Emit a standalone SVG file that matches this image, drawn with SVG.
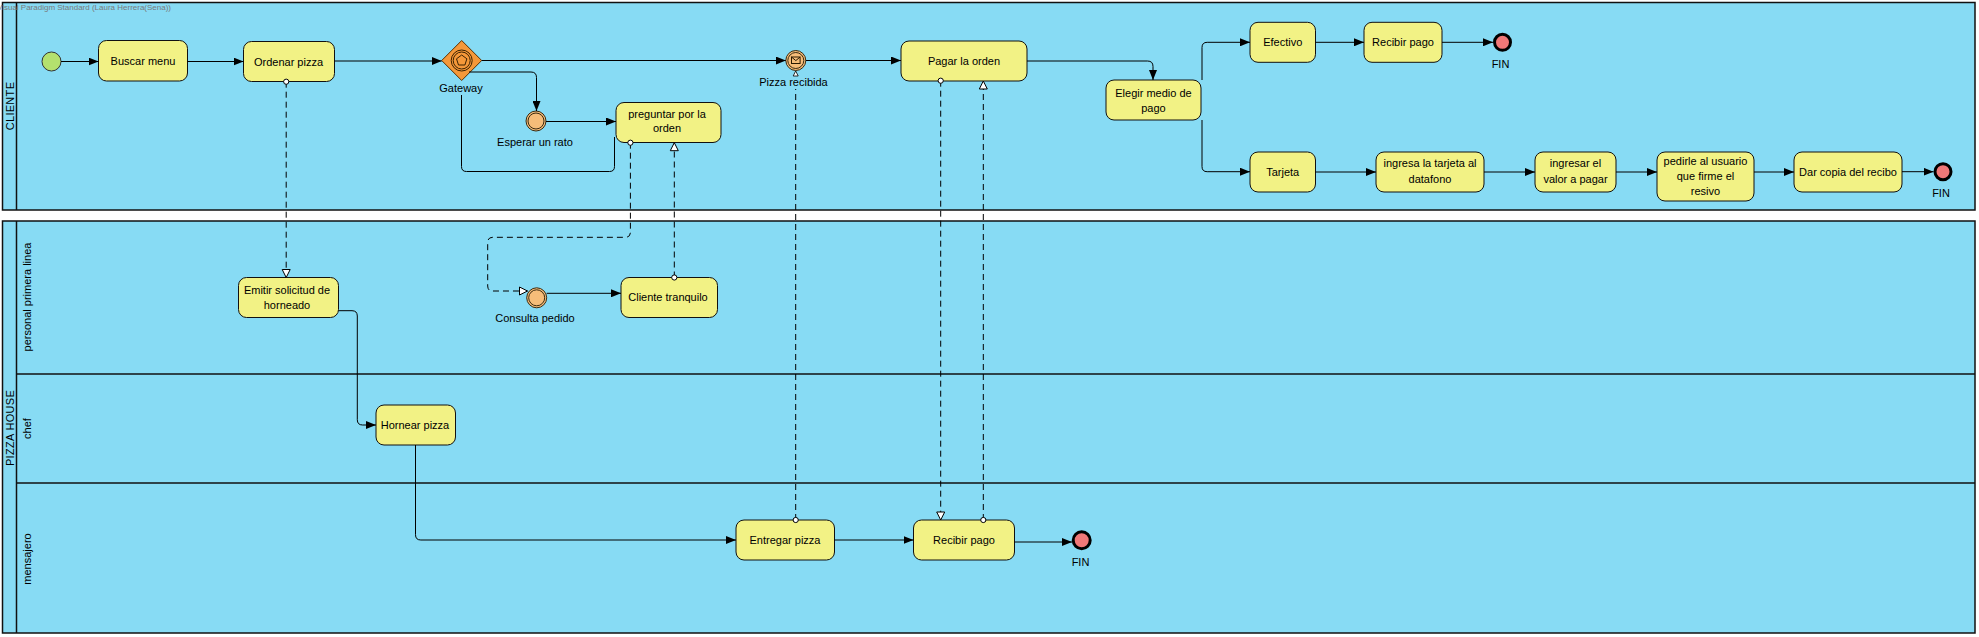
<svg xmlns="http://www.w3.org/2000/svg" width="1979" height="637" viewBox="0 0 1979 637">
<style>
.pool{fill:#87dbf4;stroke:#111;stroke-width:1.5}
.sep{stroke:#111;stroke-width:1.5;fill:none}
.task{fill:#f2f285;stroke:#111;stroke-width:1}
.t{font-family:"Liberation Sans",Arial,sans-serif;font-size:11px;fill:#000;text-anchor:middle}
.seq{fill:none;stroke:#000;stroke-width:1;marker-end:url(#arr)}
.line{fill:none;stroke:#000;stroke-width:1}
.msg{fill:none;stroke:#000;stroke-width:1;stroke-dasharray:6,4;marker-start:url(#dot);marker-end:url(#hollow)}
.ie{fill:#f6bd79;stroke:#3a2a10;stroke-width:1}
.end{fill:#f07878;stroke:#000;stroke-width:3}
</style>
<defs>
<marker id="arr" viewBox="0 0 10 8" refX="10" refY="4" markerWidth="10" markerHeight="8" markerUnits="userSpaceOnUse" orient="auto">
<path d="M0,0 L10,4 L0,8 z" fill="#000" stroke="none"/>
</marker>
<marker id="hollow" viewBox="-1 -1 10 10" refX="8" refY="4" markerWidth="10" markerHeight="10" markerUnits="userSpaceOnUse" orient="auto">
<path d="M0,0 L8,4 L0,8 z" fill="#fff" stroke="#000" stroke-width="1"/>
</marker>
<marker id="dot" viewBox="0 0 7 7" refX="3.5" refY="3.5" markerWidth="7" markerHeight="7" markerUnits="userSpaceOnUse" orient="auto">
<circle cx="3.5" cy="3.5" r="2.6" fill="#fff" stroke="#000" stroke-width="1"/>
</marker>
</defs>
<rect x="0" y="0" width="1979" height="637" fill="#fff"/>

<g id="pool-cliente">
<rect class="pool" x="2.5" y="2.5" width="1972.5" height="207.5"/>
<line class="sep" x1="16.5" y1="2.5" x2="16.5" y2="210"/>
<text class="t" transform="translate(13.5,106) rotate(-90)" style="letter-spacing:0.3px">CLIENTE</text>
</g>
<g id="pool-pizzahouse">
<rect class="pool" x="2.5" y="221" width="1972.5" height="412"/>
<line class="sep" x1="16.5" y1="221" x2="16.5" y2="633"/>
<line class="sep" x1="16.5" y1="374" x2="1975" y2="374"/>
<line class="sep" x1="16.5" y1="483" x2="1975" y2="483"/>
<text class="t" transform="translate(13.5,428) rotate(-90)" style="letter-spacing:0.3px">PIZZA HOUSE</text>
<text class="t" transform="translate(31,297) rotate(-90)">personal primera linea</text>
<text class="t" transform="translate(31,428.5) rotate(-90)">chef</text>
<text class="t" transform="translate(31,559) rotate(-90)">mensajero</text>
</g>
<text x="-3" y="9.5" font-family="Liberation Sans, Arial, sans-serif" font-size="8" fill="#7a7a7a" textLength="174" lengthAdjust="spacingAndGlyphs">Visual Paradigm Standard (Laura Herrera(Sena))</text>

<g id="start">
<circle cx="51.5" cy="61.5" r="9.5" fill="#b4e16e" stroke="#333" stroke-width="1"/>
</g>
<g id="buscar-menu">
<rect class="task" x="98.5" y="40.5" width="89" height="40.5" rx="8"/>
<text class="t" x="143" y="65">Buscar menu</text>
</g>
<g id="ordenar-pizza">
<rect class="task" x="243.5" y="41.5" width="91" height="40" rx="8"/>
<text class="t" x="288.5" y="65.5">Ordenar pizza</text>
</g>
<g id="gateway">
<polygon points="461.7,40.5 481.7,60.5 461.7,80.5 441.7,60.5" fill="#f5983a" stroke="#5a3000" stroke-width="1"/>
<circle cx="461.7" cy="60.5" r="10.5" fill="none" stroke="#3a2000" stroke-width="1"/>
<circle cx="461.7" cy="60.5" r="8.5" fill="none" stroke="#3a2000" stroke-width="1"/>
<polygon points="461.7,55 466.9,58.8 464.9,65 458.5,65 456.5,58.8" fill="none" stroke="#3a2000" stroke-width="1"/>
<text class="t" x="461" y="92.3">Gateway</text>
</g>
<g id="esperar">
<circle class="ie" cx="536" cy="121" r="10"/>
<circle class="ie" cx="536" cy="121" r="8"/>
<text class="t" x="535" y="145.5">Esperar un rato</text>
</g>
<g id="preguntar">
<rect class="task" x="616" y="102.5" width="105" height="40" rx="8"/>
<text class="t" x="667" y="117.5">preguntar por la</text>
<text class="t" x="667" y="132">orden</text>
</g>
<g id="pizza-recibida">
<circle class="ie" cx="795.8" cy="60.5" r="10"/>
<circle class="ie" cx="795.8" cy="60.5" r="8"/>
<rect x="791.5" y="57" width="8.6" height="6.5" fill="#f6bd79" stroke="#2a1a00" stroke-width="1"/>
<polyline points="791.5,57 795.8,60.6 800.1,57" fill="none" stroke="#2a1a00" stroke-width="1"/>
<text class="t" x="793.5" y="86">Pizza recibida</text>
</g>
<g id="pagar">
<rect class="task" x="901" y="41" width="126" height="40" rx="8"/>
<text class="t" x="964" y="65">Pagar la orden</text>
</g>
<g id="elegir">
<rect class="task" x="1106" y="80" width="95" height="40" rx="8"/>
<text class="t" x="1153.5" y="97">Elegir medio de</text>
<text class="t" x="1153.5" y="112">pago</text>
</g>
<g id="efectivo">
<rect class="task" x="1250" y="22.3" width="65.5" height="40" rx="8"/>
<text class="t" x="1282.7" y="46.3">Efectivo</text>
</g>
<g id="recibir-pago-cliente">
<rect class="task" x="1364" y="22.3" width="78" height="40" rx="8"/>
<text class="t" x="1403" y="46.3">Recibir pago</text>
</g>
<g id="fin-1">
<circle class="end" cx="1502.5" cy="42.3" r="8"/>
<text class="t" x="1500.5" y="67.5">FIN</text>
</g>
<g id="tarjeta">
<rect class="task" x="1250" y="152" width="65.5" height="40" rx="8"/>
<text class="t" x="1282.7" y="176">Tarjeta</text>
</g>
<g id="ingresa-tarjeta">
<rect class="task" x="1376" y="152" width="108" height="40" rx="8"/>
<text class="t" x="1430" y="167">ingresa la tarjeta al</text>
<text class="t" x="1430" y="182.5">datafono</text>
</g>
<g id="ingresar-valor">
<rect class="task" x="1535" y="152" width="81" height="40" rx="8"/>
<text class="t" x="1575.5" y="166.5">ingresar el</text>
<text class="t" x="1575.5" y="183">valor a pagar</text>
</g>
<g id="pedirle-firma">
<rect class="task" x="1657" y="152" width="97" height="49" rx="8"/>
<text class="t" x="1705.5" y="165">pedirle al usuario</text>
<text class="t" x="1705.5" y="179.5">que firme el</text>
<text class="t" x="1705.5" y="194.5">resivo</text>
</g>
<g id="dar-copia">
<rect class="task" x="1794" y="152" width="108" height="40" rx="8"/>
<text class="t" x="1848" y="176">Dar copia del recibo</text>
</g>
<g id="fin-2">
<circle class="end" cx="1943" cy="171.7" r="8"/>
<text class="t" x="1941" y="196.5">FIN</text>
</g>

<g id="emitir">
<rect class="task" x="238.5" y="277.5" width="100" height="40" rx="8"/>
<text class="t" x="287" y="293.5">Emitir solicitud de</text>
<text class="t" x="287" y="308.5">horneado</text>
</g>
<g id="consulta-pedido">
<circle class="ie" cx="536.7" cy="297.8" r="10"/>
<circle class="ie" cx="536.7" cy="297.8" r="8"/>
<text class="t" x="535" y="322.3">Consulta pedido</text>
</g>
<g id="cliente-tranquilo">
<rect class="task" x="621" y="277.5" width="96.5" height="40" rx="8"/>
<text class="t" x="668" y="300.5">Cliente tranquilo</text>
</g>
<g id="hornear">
<rect class="task" x="376" y="405" width="79.5" height="40" rx="8"/>
<text class="t" x="415" y="429">Hornear pizza</text>
</g>
<g id="entregar">
<rect class="task" x="736" y="520" width="98.5" height="40" rx="8"/>
<text class="t" x="785" y="544">Entregar pizza</text>
</g>
<g id="recibir-pago">
<rect class="task" x="913.5" y="520" width="101" height="40" rx="8"/>
<text class="t" x="964" y="544">Recibir pago</text>
</g>
<g id="fin-3">
<circle class="end" cx="1081.7" cy="540.2" r="8.5"/>
<text class="t" x="1080.5" y="566">FIN</text>
</g>

<g id="connectors">
<path class="seq" d="M61,61.5 H98.5"/>
<path class="seq" d="M187.5,61.5 H243.5"/>
<path class="seq" d="M334.5,61 H441.7"/>
<path class="seq" d="M481.7,60.5 H785.8"/>
<path class="seq" d="M469,72 H531 Q536.5,72 536.5,77.5 V111"/>
<path class="seq" d="M546,121.5 H616"/>
<path class="line" d="M461.5,95 V166.5 Q461.5,171.5 466.5,171.5 H609.5 Q614.5,171.5 614.5,166.5 V137"/>
<path class="seq" d="M805.8,60.5 H901"/>
<path class="seq" d="M1027,61 H1147.5 Q1153,61 1153,66.5 V80"/>
<path class="seq" d="M1202,80 V47.5 Q1202,42.3 1207.2,42.3 H1250"/>
<path class="seq" d="M1202,120 V166.5 Q1202,171.7 1207.2,171.7 H1250"/>
<path class="seq" d="M1315.5,42.3 H1364"/>
<path class="seq" d="M1442,42.3 H1493"/>
<path class="seq" d="M1315.5,172 H1376"/>
<path class="seq" d="M1484,172 H1535"/>
<path class="seq" d="M1616,172 H1657"/>
<path class="seq" d="M1754,172 H1794"/>
<path class="seq" d="M1902,171.7 H1933.5"/>
<path class="seq" d="M338.5,310.7 H352 Q357.3,310.7 357.3,316 V419.7 Q357.3,425 362.6,425 H376"/>
<path class="seq" d="M546.7,293.3 H621"/>
<path class="seq" d="M415.5,445 V534.7 Q415.5,540 420.8,540 H736"/>
<path class="seq" d="M834.5,540 H913.5"/>
<path class="seq" d="M1014.5,542 H1072"/>
<path class="msg" d="M286.2,81.7 V277.5"/>
<path class="msg" d="M630.4,142.7 V232.3 Q630.4,237.3 625.4,237.3 H492.7 Q487.7,237.3 487.7,242.3 V286 Q487.7,291 492.7,291 H527.5"/>
<path class="msg" d="M674.3,277.5 V142.7"/>
<path class="msg" d="M940.7,80.7 V520"/>
<path class="msg" d="M983.3,520 V81"/>
<path fill="none" stroke="#000" stroke-width="1" stroke-dasharray="6,4" marker-start="url(#dot)" d="M795.7,520 V89"/>
<polygon points="795.7,71 798.2,76 793.2,76" fill="#fff" stroke="#000" stroke-width="0.8"/>
</g>
</svg>
